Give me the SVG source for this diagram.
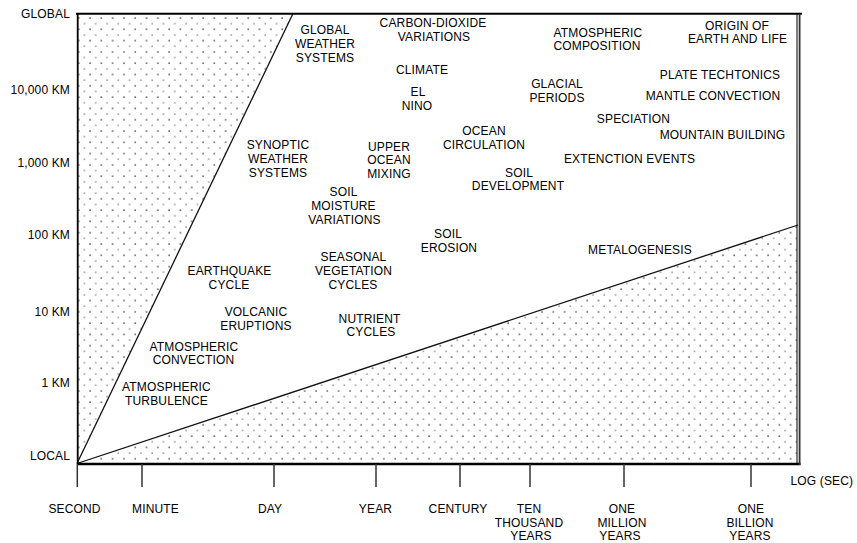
<svg xmlns="http://www.w3.org/2000/svg" width="857" height="543" viewBox="0 0 857 543">
  <style>
    text { font-family: "Liberation Sans", Arial, sans-serif; font-size: 12px; fill: #000; letter-spacing: 0.15px; }
    .c { text-anchor: middle; }
    .r { text-anchor: end; }
    .axis { stroke: #000; fill: none; }
    .tick { stroke: #333; stroke-width: 1.5; }
    .edge { stroke: #111; stroke-width: 1.3; fill: none; }
  </style>
  <defs>
    <!-- staggered stipple used for the excluded regions -->
    <pattern id="stipple" patternUnits="userSpaceOnUse" x="77.7" y="17" width="11.3" height="11.3">
      <rect x="0.4" y="0.4" width="1.3" height="1.3" fill="#1a1a1a"/>
      <rect x="6.1" y="6.1" width="1.2" height="1.2" fill="#555"/>
    </pattern>
  </defs>

  <rect width="857" height="543" fill="#fff"/>

  <!-- shaded regions outside the field of processes -->
  <g id="regions">
    <polygon points="77,14 293,14 77,463.5" fill="url(#stipple)"/>
    <polygon points="77,463.5 798,225 798,463.5" fill="url(#stipple)"/>
  </g>

  <!-- frame, boundary lines and time ticks -->
  <g id="connectors">
    <line class="edge" x1="77" y1="463.5" x2="293" y2="13.5"/>
    <line class="edge" x1="77" y1="463.5" x2="798" y2="225"/>
    <line class="axis" x1="76" y1="13.7" x2="802" y2="13.7" stroke-width="2"/>
    <line class="axis" x1="77.7" y1="13" x2="77.7" y2="464" stroke-width="1.8"/>
    <line class="axis" x1="77" y1="464" x2="800.5" y2="464" stroke-width="2.6"/>
    <line class="axis" x1="797" y1="14" x2="797" y2="464" stroke-width="1"/>
    <line x1="799.6" y1="14" x2="799.6" y2="465" stroke="#333" stroke-width="1.8"/>
    <line class="tick" x1="77.3" y1="464" x2="77.3" y2="487"/>
    <line class="tick" x1="142" y1="464" x2="142" y2="487"/>
    <line class="tick" x1="274" y1="464" x2="274" y2="487"/>
    <line class="tick" x1="376" y1="464" x2="376" y2="487"/>
    <line class="tick" x1="460" y1="464" x2="460" y2="487"/>
    <line class="tick" x1="530" y1="464" x2="530" y2="487"/>
    <line class="tick" x1="624" y1="464" x2="624" y2="487"/>
    <line class="tick" x1="751" y1="464" x2="751" y2="487"/>
  </g>

  <!-- spatial scale -->
  <g id="y-axis-labels">
    <text class="r" x="70" y="17.5">GLOBAL</text>
    <text class="r" x="70" y="94">10,000 KM</text>
    <text class="r" x="70" y="166.5">1,000 KM</text>
    <text class="r" x="70" y="238.5">100 KM</text>
    <text class="r" x="70" y="315.5">10 KM</text>
    <text class="r" x="70" y="386.5">1 KM</text>
    <text class="r" x="70" y="460">LOCAL</text>
  </g>

  <!-- temporal scale -->
  <g id="x-axis-labels">
    <text class="c" x="74.5" y="512.5">SECOND</text>
    <text class="c" x="155.5" y="512.5">MINUTE</text>
    <text class="c" x="270" y="512.5">DAY</text>
    <text class="c" x="375.5" y="512.5">YEAR</text>
    <text class="c" x="458" y="512.5">CENTURY</text>
    <text class="c" x="529" y="512.5">TEN</text>
    <text class="c" x="529" y="526.5">THOUSAND</text>
    <text class="c" x="531" y="540">YEARS</text>
    <text class="c" x="622" y="512.5">ONE</text>
    <text class="c" x="622" y="526.5">MILLION</text>
    <text class="c" x="620" y="540">YEARS</text>
    <text class="c" x="751" y="512.5">ONE</text>
    <text class="c" x="750" y="526.5">BILLION</text>
    <text class="c" x="750" y="540">YEARS</text>
    <text x="790.5" y="485">LOG (SEC)</text>
  </g>

  <!-- processes -->
  <g id="global-weather-systems">
    <text class="c" x="325" y="34">GLOBAL</text>
    <text class="c" x="325" y="48">WEATHER</text>
    <text class="c" x="325" y="62">SYSTEMS</text>
  </g>
  <g id="carbon-dioxide-variations">
    <text class="c" x="433" y="27">CARBON-DIOXIDE</text>
    <text class="c" x="434" y="41">VARIATIONS</text>
  </g>
  <g id="atmospheric-composition">
    <text class="c" x="598" y="36.5">ATMOSPHERIC</text>
    <text class="c" x="597" y="49.5">COMPOSITION</text>
  </g>
  <g id="origin-of-earth-and-life">
    <text class="c" x="737" y="30">ORIGIN OF</text>
    <text class="c" x="737.5" y="43">EARTH AND LIFE</text>
  </g>
  <g id="climate">
    <text class="c" x="422" y="74">CLIMATE</text>
  </g>
  <g id="el-nino">
    <text class="c" x="418" y="96">EL</text>
    <text class="c" x="417" y="110">NINO</text>
  </g>
  <g id="glacial-periods">
    <text class="c" x="557" y="88">GLACIAL</text>
    <text class="c" x="557" y="101.7">PERIODS</text>
  </g>
  <g id="plate-techtonics">
    <text class="c" x="720" y="79">PLATE TECHTONICS</text>
  </g>
  <g id="mantle-convection">
    <text class="c" x="713" y="99.5">MANTLE CONVECTION</text>
  </g>
  <g id="speciation">
    <text class="c" x="633.5" y="123">SPECIATION</text>
  </g>
  <g id="mountain-building">
    <text class="c" x="722.5" y="139">MOUNTAIN BUILDING</text>
  </g>
  <g id="ocean-circulation">
    <text class="c" x="484" y="135">OCEAN</text>
    <text class="c" x="484" y="149">CIRCULATION</text>
  </g>
  <g id="extenction-events">
    <text class="c" x="629.5" y="162.5">EXTENCTION EVENTS</text>
  </g>
  <g id="synoptic-weather-systems">
    <text class="c" x="278" y="149">SYNOPTIC</text>
    <text class="c" x="278" y="163">WEATHER</text>
    <text class="c" x="278" y="177">SYSTEMS</text>
  </g>
  <g id="upper-ocean-mixing">
    <text class="c" x="389" y="150.5">UPPER</text>
    <text class="c" x="389" y="164">OCEAN</text>
    <text class="c" x="389" y="178">MIXING</text>
  </g>
  <g id="soil-development">
    <text class="c" x="519" y="176.5">SOIL</text>
    <text class="c" x="518" y="190">DEVELOPMENT</text>
  </g>
  <g id="soil-moisture-variations">
    <text class="c" x="343.5" y="196">SOIL</text>
    <text class="c" x="343.5" y="210">MOISTURE</text>
    <text class="c" x="344.5" y="223.5">VARIATIONS</text>
  </g>
  <g id="soil-erosion">
    <text class="c" x="448" y="238">SOIL</text>
    <text class="c" x="449" y="251.5">EROSION</text>
  </g>
  <g id="metalogenesis">
    <text class="c" x="640" y="254">METALOGENESIS</text>
  </g>
  <g id="seasonal-vegetation-cycles">
    <text class="c" x="353.5" y="260.5">SEASONAL</text>
    <text class="c" x="353.5" y="275">VEGETATION</text>
    <text class="c" x="353" y="288.5">CYCLES</text>
  </g>
  <g id="earthquake-cycle">
    <text class="c" x="229.5" y="275">EARTHQUAKE</text>
    <text class="c" x="229" y="288.5">CYCLE</text>
  </g>
  <g id="volcanic-eruptions">
    <text class="c" x="256" y="316">VOLCANIC</text>
    <text class="c" x="256" y="329.5">ERUPTIONS</text>
  </g>
  <g id="nutrient-cycles">
    <text class="c" x="369.5" y="322.5">NUTRIENT</text>
    <text class="c" x="371" y="336">CYCLES</text>
  </g>
  <g id="atmospheric-convection">
    <text class="c" x="194" y="350.5">ATMOSPHERIC</text>
    <text class="c" x="193.5" y="364">CONVECTION</text>
  </g>
  <g id="atmospheric-turbulence">
    <text class="c" x="166.5" y="391">ATMOSPHERIC</text>
    <text class="c" x="166.5" y="405">TURBULENCE</text>
  </g>
</svg>
